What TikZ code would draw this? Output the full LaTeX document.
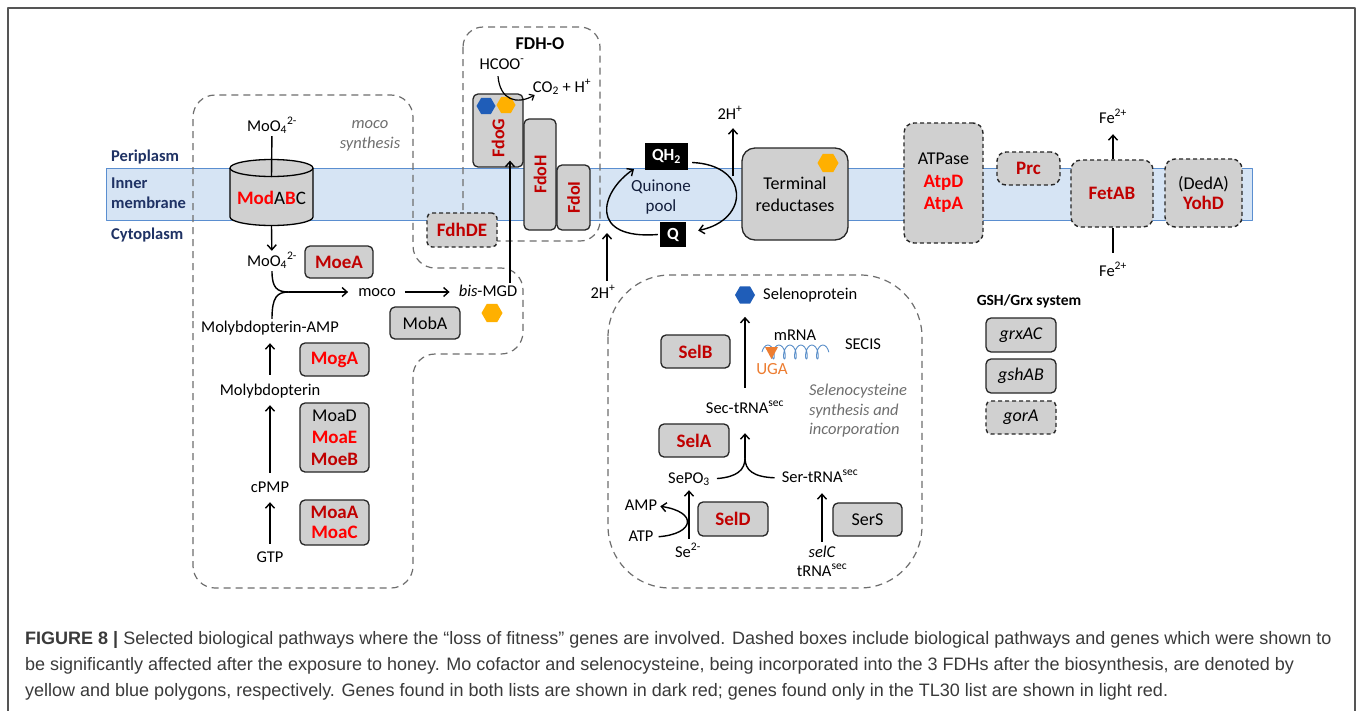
\documentclass[tikz,border=0pt]{standalone}
\usepackage{fontspec}
\setmainfont{Carlito}
\newfontfamily\capfont{Liberation Sans}
\usetikzlibrary{arrows.meta,shapes.geometric,decorations.pathmorphing}

\definecolor{darkred}{HTML}{C00000}
\definecolor{lightred}{HTML}{FF0000}
\definecolor{boxgray}{HTML}{D0D0D0}
\definecolor{membfill}{HTML}{D6E4F4}
\definecolor{membline}{HTML}{5A8ED0}
\definecolor{labelnavy}{HTML}{1F3264}
\definecolor{regiongray}{HTML}{6E6E6E}
\definecolor{moyellow}{HTML}{FFB000}
\definecolor{seblue}{HTML}{1F5DB8}
\definecolor{ugaorange}{HTML}{ED7D31}
\definecolor{rnablue}{HTML}{5B8FC9}
\definecolor{capgray}{HTML}{3A3A3A}
\definecolor{framegray}{HTML}{555555}

% gene names: bold, dark red (both lists) or light red (TL30 only)
\newcommand{\dkred}[1]{\textcolor{darkred}{\bfseries\fontsize{19}{22}\selectfont #1}}
\newcommand{\ltred}[1]{\textcolor{lightred}{\bfseries\fontsize{19}{22}\selectfont #1}}
\newcommand{\rotred}[1]{\textcolor{darkred}{\bfseries #1}}

\tikzset{
  lbl/.style={font=\fontsize{16.5}{19}\selectfont, inner sep=1pt, text height=12pt, text depth=4pt},
  memlbl/.style={font=\bfseries\fontsize{16.5}{20}\selectfont, text=labelnavy, inner sep=0pt, anchor=west, align=left},
  note/.style={font=\itshape\fontsize{16.5}{19.5}\selectfont, text=regiongray, inner sep=0pt},
  gene/.style={draw=black!85, fill=boxgray, line width=1.3pt, rounded corners=5pt, inner sep=0pt,
               align=center, font=\fontsize{18}{22}\selectfont},
  dgene/.style={gene, dash pattern=on 4pt off 3pt, line width=1.4pt},
  qbox/.style={fill=black, text=white, inner sep=0pt, font=\bfseries\fontsize{17}{20}\selectfont},
  region/.style={draw=regiongray, dash pattern=on 7pt off 5pt, line width=1.2pt},
  arr/.style={line width=1.4pt, -{Straight Barb[length=5pt,width=9pt]}},
  link/.style={line width=1.4pt},
  hexa/.style={regular polygon, regular polygon sides=6, minimum size=21pt, inner sep=0pt},
  capline/.style={anchor=west, inner sep=0pt, text=capgray, font=\capfont\fontsize{18}{22}\selectfont}
}

\begin{document}
\begin{tikzpicture}[x=1pt,y=-1pt,line join=round]
\useasboundingbox (0,0) rectangle (1357,710);
\fill[white] (0,0) rectangle (1357,710);
\draw[framegray, line width=1.5pt] (8,712) -- (8,8) -- (1355,8) -- (1355,712);

% inner membrane band
\draw[membline, fill=membfill, line width=1pt] (106,168) rectangle (1252,220);
\node[memlbl] (peri) at (111,157) {Periplasm};
\node[memlbl] (inner) at (111,193) {Inner\\membrane};
\node[memlbl] (cyto) at (111,235) {Cytoplasm};

% dashed pathway regions
\draw[region, rounded corners=22pt] (193,340) -- (193,95) -- (413,95) -- (413,268) -- (523,268)
      -- (523,354) -- (413,354) -- (413,588) -- (193,588) -- cycle;
\draw[region, rounded corners=20pt] (463,27) rectangle (600,241);
\draw[region, rounded corners=62pt] (608,275) rectangle (922,588);

% ---------- molybdenum cofactor synthesis ----------
\node[lbl] (mo4top) at (272,127) {MoO\textsubscript{4}\textsuperscript{2-}};
\node[note, align=center] (moconame) at (370,136) {moco\\synthesis};

% ModABC transporter (cylinder)
\fill[boxgray] (230,168) -- (230,217) arc[start angle=180, end angle=0, x radius=41.5, y radius=8.5] -- (313,168) -- cycle;
\draw[line width=1.3pt] (230,168) -- (230,217) arc[start angle=180, end angle=0, x radius=41.5, y radius=8.5] -- (313,168);
\draw[line width=1.3pt, fill=boxgray] (271.5,168) ellipse [x radius=41.5, y radius=8.5];
\node[font=\fontsize{19}{21}\selectfont, inner sep=0pt] (modabc) at (271.5,198) {\ltred{Mod}A\ltred{B}C};
\coordinate (cyltop) at (271.5,177);
\coordinate (cylbot) at (271.5,226);
\draw[link] (mo4top) -- (cyltop);

\node[lbl] (mo4in) at (272,262) {MoO\textsubscript{4}\textsuperscript{2-}};
\draw[arr, shorten >=2pt] (cylbot) -- (mo4in);
\node[gene, minimum width=68pt, minimum height=32pt] (moea) at (339,262) {\dkred{MoeA}};

\node[lbl] (mptamp) at (270,328) {Molybdopterin-AMP};
\node[lbl] (mpt) at (270,391) {Molybdopterin};
\node[lbl] (cpmp) at (270,488) {cPMP};
\node[lbl] (gtp) at (270,558) {GTP};
\draw[arr, shorten <=5pt, shorten >=5pt] (gtp) -- (cpmp);
\draw[arr, shorten <=6pt, shorten >=5pt] (cpmp) -- (mpt);
\draw[arr, shorten <=7pt, shorten >=6pt] (mpt) -- (mptamp);

\node[gene, minimum width=69pt, minimum height=33pt] (moga) at (334.5,359.5) {\ltred{MogA}};
\node[gene, minimum width=69pt, minimum height=69pt] (moad) at (334.5,437.5) {MoaD\\\ltred{MoaE}\\\dkred{MoeB}};
\node[gene, minimum width=69pt, minimum height=45pt, font=\fontsize{18}{20}\selectfont] (moaa) at (334.5,522.5) {\dkred{MoaA}\\\ltred{MoaC}};

% MoO4 and molybdopterin-AMP merge into moco
\coordinate (mocojoin) at (289,292);
\node[lbl] (moco) at (377,292) {moco};
\node[lbl] (bismgd) at (488,292) {\textit{bis}-MGD};
\draw[link] (mo4in.south -| 272,0) .. controls (272,288) and (277,292) .. (mocojoin);
\draw[link] (mptamp.north -| 272,0) .. controls (272,297) and (277,292) .. (mocojoin);
\draw[arr, shorten >=9pt] (mocojoin) -- (moco);
\draw[arr, shorten <=8pt, shorten >=8pt] (moco) -- (bismgd);
\node[gene, minimum width=70pt, minimum height=32pt] (moba) at (425,323) {MobA};
\node[hexa, fill=moyellow] (mohex) at (492,313) {};

% ---------- FDH-O ----------
\node[font=\bfseries\fontsize{18}{21}\selectfont, inner sep=0pt] (fdho) at (540,44) {FDH-O};
\node[gene, minimum width=50pt, minimum height=73pt] (fdog) at (498,130.5) {};
\node[rotate=90, inner sep=0pt, font=\fontsize{18}{21}\selectfont] (fdoglbl) at (498,138) {\rotred{FdoG}};
\node[gene, rotate=90, minimum width=111pt, minimum height=32pt] (fdoh) at (540,174.5) {\rotred{FdoH}};
\node[gene, rotate=90, minimum width=65pt, minimum height=33pt] (fdoi) at (573.5,197.5) {\rotred{FdoI}};
\node[hexa, fill=seblue, minimum size=19pt] (fdogse) at (486,106) {};
\node[hexa, fill=moyellow, minimum size=19pt] (fdogmo) at (506,105) {};
\node[dgene, minimum width=70pt, minimum height=34pt] (fdhde) at (462,230) {\dkred{FdhDE}};

\node[lbl] (hcoo) at (502,65) {HCOO\textsuperscript{-}};
\node[lbl] (co2) at (562,88) {CO\textsubscript{2} + H\textsuperscript{+}};
\draw[line width=1.2pt, -{Straight Barb[length=4pt,width=7pt]}] ([xshift=-4pt,yshift=-2pt]hcoo.south)
      .. controls +(2,24) and +(-18,10) .. ([xshift=3pt,yshift=-7pt]co2.west);

\coordinate (mgdtop) at (510,283);
\draw[arr, shorten >=-7pt] (mgdtop) -- (mgdtop |- fdog.south);

% ---------- quinone pool ----------
\node[qbox, minimum width=43pt, minimum height=27pt] (qh2) at (666.5,156.5) {QH\textsubscript{2}};
\node[qbox, minimum width=26pt, minimum height=25pt] (q) at (673,234.5) {Q};
\node[font=\fontsize{17}{20}\selectfont, text=labelnavy!60!black, align=center, inner sep=0pt] (qpool) at (661,197) {Quinone\\pool};
\coordinate (qh2in) at (634,169);
\draw[arr] ([xshift=-2pt]q.west) .. controls (588,240) and (600,192) .. (qh2in);
\draw[arr] ([xshift=4pt,yshift=-6pt]qh2.east) .. controls (750,165) and (750,220) .. ([xshift=12pt,yshift=4pt]q.east);
\coordinate (hout) at (733,176);
\node[lbl] (hplus1) at (730,115) {2H\textsuperscript{+}};
\draw[arr, shorten >=4pt] (hout) -- (hout |- hplus1.south);
\coordinate (hin) at (607,233);
\node[lbl] (hplus2) at (603,294) {2H\textsuperscript{+}};
\draw[arr, shorten <=4pt] (hplus2.north -| hin) -- (hin);

\node[gene, rounded corners=13pt, minimum width=106pt, minimum height=92pt] (termred) at (795,194) {Terminal\\reductases};
\node[hexa, fill=moyellow] (termhex) at (828,163) {};

% ---------- other membrane proteins ----------
\node[dgene, rounded corners=10pt, minimum width=79pt, minimum height=120pt, font=\fontsize{18}{22.5}\selectfont] (atpase) at (943.5,183) {ATPase\\\ltred{AtpD}\\\ltred{AtpA}};
\node[dgene, rounded corners=9pt, minimum width=63pt, minimum height=33pt] (prc) at (1028.5,168.5) {\dkred{Prc}};
\node[dgene, rounded corners=10pt, minimum width=82pt, minimum height=67pt] (fetab) at (1112,193.5) {\dkred{FetAB}};
\node[dgene, rounded corners=10pt, minimum width=77pt, minimum height=68pt, font=\fontsize{18}{20.5}\selectfont] (yohd) at (1203.5,193) {(DedA)\\\dkred{YohD}};
\node[lbl] (fetop) at (1113,119) {Fe\textsuperscript{2+}};
\node[lbl] (febot) at (1113,272) {Fe\textsuperscript{2+}};
\draw[arr, shorten >=6pt] (fetab.north -| fetop) -- (fetop);
\draw[link, shorten <=10pt] (febot) -- (febot |- fetab.south);

% ---------- GSH/Grx system ----------
\node[font=\bfseries\fontsize{15.5}{18}\selectfont, inner sep=0pt] (gshgrx) at (1029,301) {GSH/Grx system};
\node[gene, minimum width=70pt, minimum height=34pt, font=\itshape\fontsize{18}{21}\selectfont] (grxac) at (1021,335) {grxAC};
\node[gene, minimum width=70pt, minimum height=34pt, font=\itshape\fontsize{18}{21}\selectfont] (gshab) at (1021,376) {gshAB};
\node[dgene, minimum width=70pt, minimum height=33pt, font=\itshape\fontsize{18}{21}\selectfont] (gora) at (1021,417.5) {gorA};

% ---------- selenocysteine synthesis and incorporation ----------
\node[hexa, fill=seblue, minimum size=20pt] (sehex) at (745,295) {};
\node[lbl, anchor=west] (selprot) at (762,295) {Selenoprotein};
\node[gene, minimum width=69pt, minimum height=33pt] (selb) at (695.5,351.5) {\dkred{SelB}};
\node[lbl] (mrna) at (795,336) {mRNA};
\node[lbl] (secis) at (863,345) {SECIS};
\draw[rnablue, line width=0.9pt, decorate, decoration={coil, aspect=0.45, segment length=11pt, amplitude=7pt}]
      (762,352) -- (829,352);
\fill[ugaorange] (765,347) -- (778,347) -- (771.5,359) -- cycle;
\node[lbl, text=ugaorange, font=\fontsize{17}{20}\selectfont] (uga) at (772,370) {UGA};
\node[lbl] (sectrna) at (745,409) {Sec-tRNA\textsuperscript{sec}};
\draw[arr, shorten <=12pt, shorten >=13pt] (sectrna) -- (sehex);
\node[note, align=left, anchor=north west] (selnote) at (809,384) {Selenocysteine\\synthesis and\\incorporation};
\node[gene, minimum width=70pt, minimum height=33pt] (sela) at (694,440.5) {\dkred{SelA}};

\node[lbl] (sepo3) at (689,479) {SePO\textsubscript{3}};
\node[lbl] (sertrna) at (820,478) {Ser-tRNA\textsuperscript{sec}};
\coordinate (secjoin) at (745,458);
\draw[link, shorten <=6pt] (sepo3.east) .. controls (737,477) and (745,470) .. (secjoin);
\draw[link, shorten <=6pt] (sertrna.west) .. controls (753,477) and (745,470) .. (secjoin);
\draw[arr, shorten >=15pt] (secjoin) -- (sectrna);

\node[lbl] (amp) at (641,506) {AMP};
\node[lbl] (atp) at (641,537) {ATP};
\node[lbl] (se) at (688,553) {Se\textsuperscript{2-}};
\draw[arr, shorten <=4pt, shorten >=2pt] (atp.east) .. controls +(40,-3) and +(40,6) .. (amp.east);
\draw[arr, shorten <=5pt, shorten >=2pt] (se.north -| sepo3) -- (sepo3);
\node[gene, minimum width=70pt, minimum height=34pt] (seld) at (733,519) {\dkred{SelD}};

\node[lbl, font=\itshape\fontsize{16.5}{19}\selectfont] (selc) at (822,553) {selC};
\node[lbl] (trnasec) at (822,572) {tRNA\textsuperscript{sec}};
\draw[arr, shorten <=2pt, shorten >=6pt] (selc) -- (selc |- sertrna.south);
\node[gene, minimum width=69pt, minimum height=33pt] (sers) at (867.5,519.5) {SerS};

% ---------- caption ----------
\node[capline] (cap1) at (25,640) {\textbf{FIGURE 8 |} Selected biological pathways where the “loss of fitness” genes are involved. Dashed boxes include biological pathways and genes which were shown to};
\node[capline] (cap2) at (25,666) {be significantly affected after the exposure to honey. Mo cofactor and selenocysteine, being incorporated into the 3 FDHs after the biosynthesis, are denoted by};
\node[capline] (cap3) at (25,692) {yellow and blue polygons, respectively. Genes found in both lists are shown in dark red; genes found only in the TL30 list are shown in light red.};
\end{tikzpicture}
\end{document}
